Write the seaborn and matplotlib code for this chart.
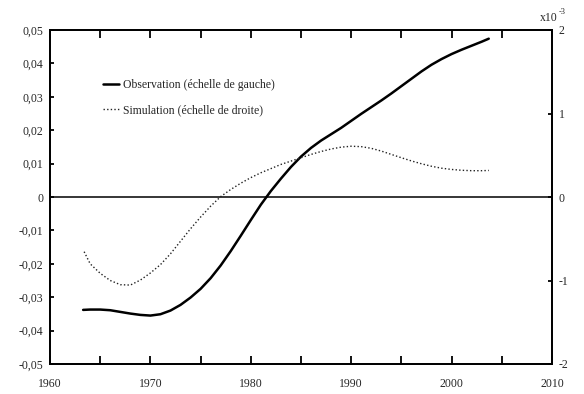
import numpy as np
import pandas as pd
import matplotlib
matplotlib.use("Agg")
import matplotlib.pyplot as plt
from matplotlib.ticker import FixedLocator, FuncFormatter
from matplotlib.lines import Line2D
import seaborn as sns

# Observed series (left scale)
obs_years = [1963.3, 1964, 1965, 1966, 1967, 1968, 1969, 1970, 1971, 1972,
             1973, 1974, 1975, 1976, 1977, 1978, 1979, 1980, 1981, 1982,
             1983, 1984, 1985, 1986, 1987, 1988, 1989, 1990, 1991, 1992,
             1993, 1994, 1995, 1996, 1997, 1998, 1999, 2000, 2001, 2002,
             2003, 2003.7]
obs_values = [-0.0338, -0.0337, -0.0337, -0.0339, -0.0344, -0.0349, -0.0353,
              -0.0355, -0.0351, -0.0340, -0.0323, -0.0301, -0.0275, -0.0243,
              -0.0205, -0.0162, -0.0116, -0.0069, -0.0023, 0.0018, 0.0055,
              0.0090, 0.0121, 0.0147, 0.0169, 0.0188, 0.0207, 0.0228, 0.0249,
              0.0269, 0.0289, 0.0310, 0.0332, 0.0354, 0.0376, 0.0396, 0.0413,
              0.0428, 0.0441, 0.0453, 0.0465, 0.0474]

# Simulated series (right scale, in units of 1e-3)
sim_years = [1963.4, 1964, 1965, 1966, 1967, 1968, 1969, 1970, 1971, 1972,
             1973, 1974, 1975, 1976, 1977, 1978, 1979, 1980, 1981, 1982,
             1983, 1984, 1985, 1986, 1987, 1988, 1989, 1990, 1991, 1992,
             1993, 1994, 1995, 1996, 1997, 1998, 1999, 2000, 2001, 2002,
             2003, 2003.7]
sim_values = [-0.655, -0.80, -0.914, -1.00, -1.050, -1.055, -0.995, -0.91,
              -0.81, -0.68, -0.53, -0.38, -0.24, -0.110, 0.005, 0.09, 0.165,
              0.232, 0.29, 0.34, 0.39, 0.43, 0.47, 0.51, 0.545, 0.575, 0.597,
              0.608, 0.603, 0.583, 0.550, 0.510, 0.470, 0.432, 0.398, 0.368,
              0.345, 0.330, 0.320, 0.315, 0.315, 0.318]

left_ticks = [-0.05, -0.04, -0.03, -0.02, -0.01, 0, 0.01, 0.02, 0.03, 0.04, 0.05]
right_ticks = [-2, -1, 0, 1, 2]
year_ticks = [1960, 1970, 1980, 1990, 2000, 2010]
year_minor = [1965, 1975, 1985, 1995, 2005]

obs_label = "Observation (échelle de gauche)"
sim_label = "Simulation (échelle de droite)"

obs_df = pd.DataFrame({"annee": obs_years, "valeur": obs_values})
sim_df = pd.DataFrame({"annee": sim_years, "valeur": sim_values})

sns.set_style("ticks")
plt.rcParams["font.family"] = ["Liberation Serif", "DejaVu Serif"]
plt.rcParams["axes.unicode_minus"] = False
FS = 8.5

fig = plt.figure(figsize=(5.84, 3.94), dpi=100)
ax = fig.add_axes([50 / 584, 30 / 394, 502 / 584, 334 / 394])
ax2 = ax.twinx()

ax.axhline(0, color="black", lw=1.1, zorder=1)
sns.lineplot(data=obs_df, x="annee", y="valeur", ax=ax, color="black",
             lw=1.8, sort=False, estimator=None)
sns.lineplot(data=sim_df, x="annee", y="valeur", ax=ax2, color="#222222",
             lw=1.0, linestyle=(0, (1, 1.6)), sort=False, estimator=None)

ax.set_xlim(1960, 2010)
ax.set_ylim(-0.05, 0.05)
ax2.set_ylim(-2, 2)

ax.xaxis.set_major_locator(FixedLocator(year_ticks))
ax.xaxis.set_minor_locator(FixedLocator(year_minor))
ax.yaxis.set_major_locator(FixedLocator(left_ticks))
ax2.yaxis.set_major_locator(FixedLocator(right_ticks))

def comma_fmt(v, pos):
    if abs(v) < 1e-12:
        return "0"
    return f"{v:.2f}".replace(".", ",")

ax.yaxis.set_major_formatter(FuncFormatter(comma_fmt))
ax.xaxis.set_major_formatter(FuncFormatter(lambda v, p: f"{int(round(v))}"))
ax2.yaxis.set_major_formatter(FuncFormatter(lambda v, p: f"{int(round(v))}"))

for a in (ax, ax2):
    a.set_xlabel("")
    a.set_ylabel("")
    for s in a.spines.values():
        s.set_visible(True)
        s.set_linewidth(1.3)
        s.set_color("black")

ax.tick_params(axis="x", which="both", direction="in", top=True, bottom=True,
               length=5.5, width=1.3, labelsize=FS, pad=10, color="black")
ax.tick_params(axis="y", which="major", direction="in", left=True, right=False,
               length=3, width=1.3, labelsize=FS, pad=5, color="black")
ax2.tick_params(axis="y", which="major", direction="in", right=True, left=False,
                length=3, width=1.3, labelsize=FS, pad=5, color="black")

handles = [Line2D([], [], color="black", lw=1.8),
           Line2D([], [], color="#222222", lw=1.0, linestyle=(0, (1, 1.6)))]
leg = ax.legend(handles, [obs_label, sim_label], loc="upper left",
                bbox_to_anchor=(0.106, 0.853), frameon=False, fontsize=FS,
                handlelength=1.35, handletextpad=0.3, labelspacing=1.08,
                borderpad=0, borderaxespad=0)
if ax2.get_legend() is not None:
    ax2.get_legend().remove()

fig.text(540 / 584, 1 - 18 / 394, "x10", fontsize=FS, ha="left", va="center")
fig.text(559 / 584, 1 - 12 / 394, "-3", fontsize=6, ha="left", va="center")

fig.savefig("out.png", dpi=100)
